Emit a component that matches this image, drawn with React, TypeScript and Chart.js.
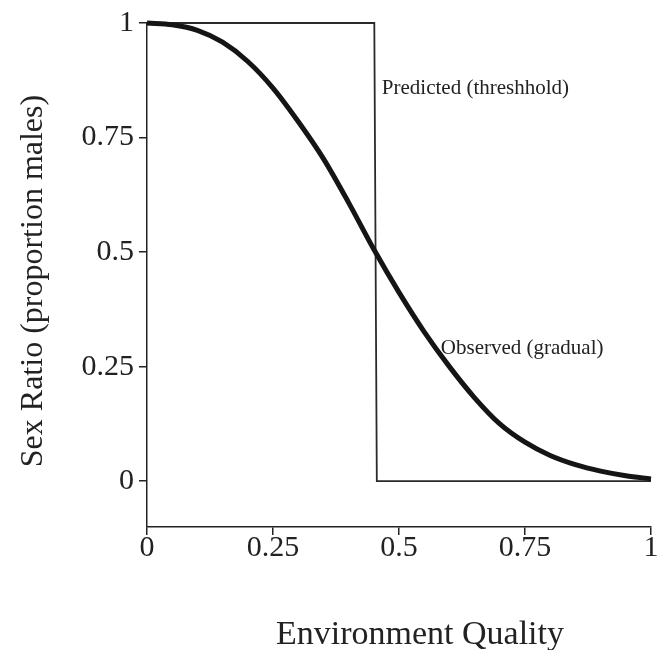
import React, { useEffect, useRef } from "react";
import { Chart, registerables } from "chart.js";

Chart.register(...registerables);

const X_TICKS = [0, 0.25, 0.5, 0.75, 1];
const Y_TICKS = [0, 0.25, 0.5, 0.75, 1];

const PREDICTED_X = [0, 0.451, 0.456, 1];
const PREDICTED_Y = [1, 1, 0, 0];

const OBSERVED_X = [0, 0.05, 0.1, 0.15, 0.2, 0.25, 0.3, 0.35, 0.4, 0.45, 0.5, 0.55, 0.6, 0.65, 0.7, 0.75, 0.8, 0.85, 0.9, 0.95, 1];
const OBSERVED_Y = [1.0, 0.996, 0.984, 0.958, 0.916, 0.858, 0.785, 0.704, 0.608, 0.506, 0.412, 0.326, 0.25, 0.182, 0.125, 0.085, 0.056, 0.036, 0.022, 0.012, 0.005];

const ANNOTATIONS = [
  { text: "Predicted (threshhold)", x: 0.466, y: 0.858 },
  { text: "Observed (gradual)", x: 0.583, y: 0.29 },
];

const X_TITLE = "Environment Quality";
const Y_TITLE = "Sex Ratio (proportion males)";

const SERIF = '"Liberation Serif", "Times New Roman", serif';
const INK = "#222222";

function fmt(v: number): string {
  return String(v);
}

export default function App() {
  const ref = useRef<HTMLCanvasElement | null>(null);

  useEffect(() => {
    if (!ref.current) return;

    const textPlugin = {
      id: "textPlugin",
      afterDraw(chart: any) {
        const ctx = chart.ctx;
        const xs = chart.scales.x;
        const ys = chart.scales.y;
        const area = chart.chartArea;
        ctx.save();
        ctx.fillStyle = INK;
        ctx.font = `21px ${SERIF}`;
        ctx.textAlign = "left";
        ctx.textBaseline = "middle";
        ANNOTATIONS.forEach((a) => {
          ctx.fillText(a.text, xs.getPixelForValue(a.x), ys.getPixelForValue(a.y));
        });
        ctx.font = `34px ${SERIF}`;
        ctx.textAlign = "center";
        ctx.textBaseline = "alphabetic";
        ctx.fillText(X_TITLE, (area.left + area.right) / 2 + 21, chart.height - 6);
        ctx.translate(42, (area.top + area.bottom) / 2 + 6);
        ctx.rotate(-Math.PI / 2);
        ctx.font = `32px ${SERIF}`;
        ctx.fillText(Y_TITLE, 0, 0);
        ctx.restore();
      },
    };

    const chart = new Chart(ref.current, {
      type: "scatter",
      data: {
        datasets: [
          {
            label: "Observed (gradual)",
            data: OBSERVED_X.map((x, i) => ({ x, y: OBSERVED_Y[i] })),
            showLine: true,
            borderColor: "#151515",
            borderWidth: 5,
            pointRadius: 0,
            cubicInterpolationMode: "monotone",
            clip: false,
            order: 0,
          } as any,
          {
            label: "Predicted (threshhold)",
            data: PREDICTED_X.map((x, i) => ({ x, y: PREDICTED_Y[i] })),
            showLine: true,
            borderColor: "#2a2a2a",
            borderWidth: 1.8,
            pointRadius: 0,
            tension: 0,
            clip: false,
            order: 1,
          } as any,
        ],
      },
      options: {
        animation: false,
        responsive: true,
        maintainAspectRatio: false,
        layout: { padding: { top: 23, right: 14, left: 0, bottom: 0 } },
        plugins: {
          legend: { display: false },
          tooltip: { enabled: false },
        },
        scales: {
          x: {
            type: "linear",
            min: 0,
            max: 1,
            afterBuildTicks: (axis: any) => {
              axis.ticks = X_TICKS.map((v) => ({ value: v }));
            },
            afterFit: (axis: any) => {
              axis.height = 123;
            },
            ticks: {
              color: INK,
              font: { family: SERIF, size: 30 },
              padding: -5,
              maxRotation: 0,
              callback: (v: any) => fmt(Number(v)),
            },
            grid: {
              display: true,
              drawOnChartArea: false,
              drawTicks: true,
              tickLength: 8,
              color: INK,
              lineWidth: 1.5,
            },
            border: { display: true, color: INK, width: 1.5 },
          },
          y: {
            type: "linear",
            min: -0.1,
            max: 1,
            afterBuildTicks: (axis: any) => {
              axis.ticks = Y_TICKS.map((v) => ({ value: v }));
            },
            afterFit: (axis: any) => {
              axis.width = 147;
            },
            ticks: {
              color: INK,
              font: { family: SERIF, size: 30 },
              padding: 5,
              callback: (v: any) => fmt(Number(v)),
            },
            grid: {
              display: true,
              drawOnChartArea: false,
              drawTicks: true,
              tickLength: 8,
              color: INK,
              lineWidth: 1.5,
            },
            border: { display: true, color: INK, width: 1.5 },
          },
        },
      },
      plugins: [textPlugin],
    });

    return () => chart.destroy();
  }, []);

  return (
    <div style={{ position: "absolute", left: 0, top: 0, width: 665, height: 650, background: "#fff" }}>
      <canvas ref={ref} />
    </div>
  );
}
